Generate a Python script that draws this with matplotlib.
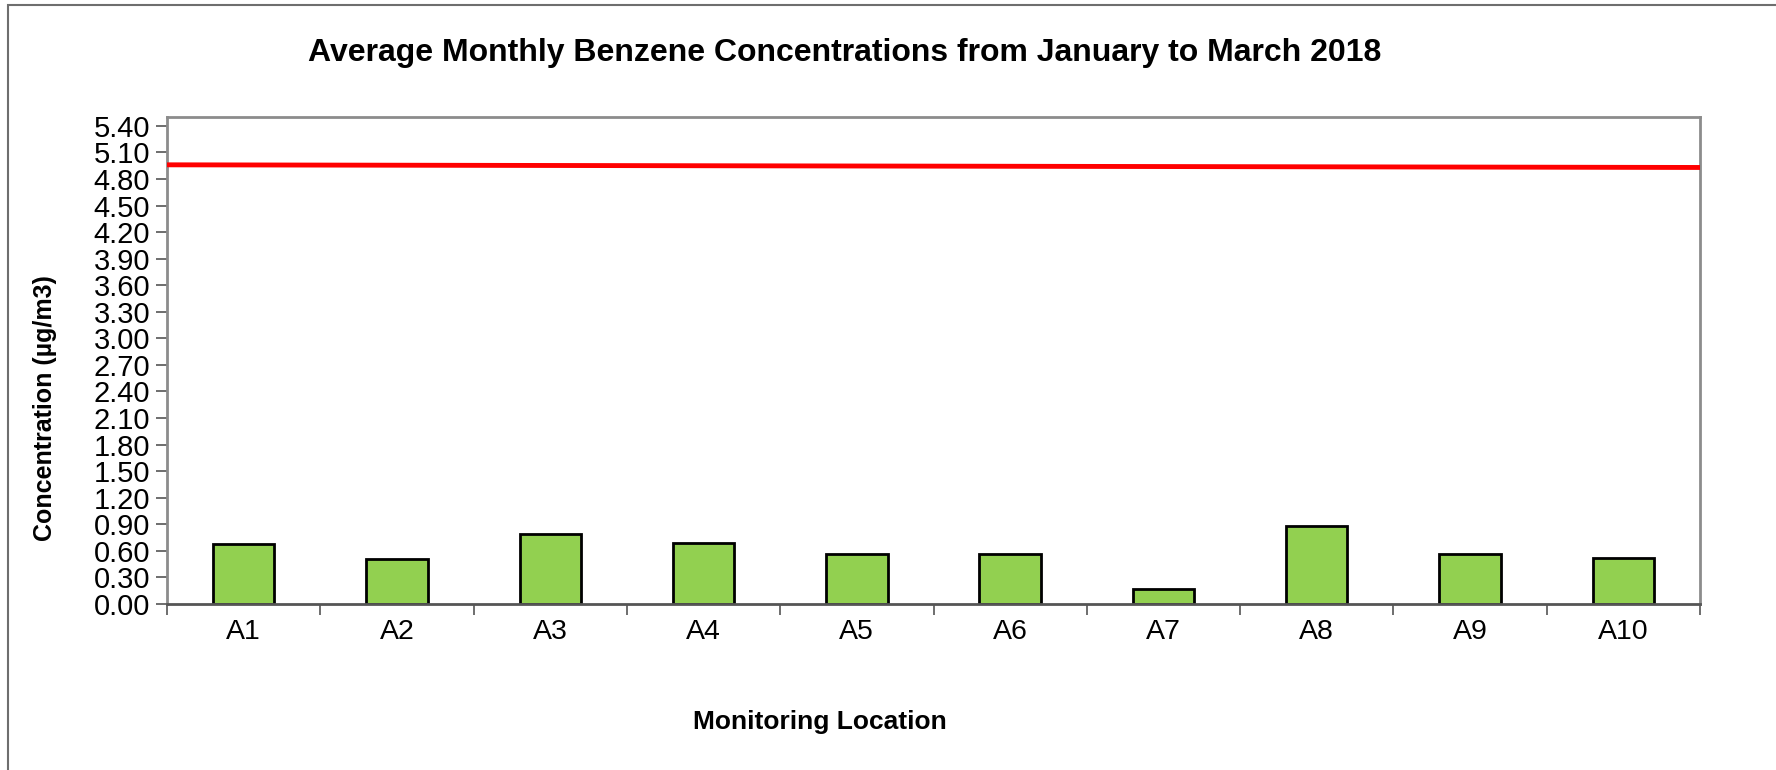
import matplotlib.pyplot as plt
from matplotlib.patches import Rectangle

plt.rcParams['font.family'] = ['Liberation Sans', 'DejaVu Sans']

locations = ['A1', 'A2', 'A3', 'A4', 'A5', 'A6', 'A7', 'A8', 'A9', 'A10']
benzene = [0.68, 0.51, 0.79, 0.69, 0.57, 0.56, 0.17, 0.88, 0.57, 0.52]
# guideline line, left end and right end
limit_x = [-0.5, 9.5]
limit_y = [4.96, 4.93]
yticks = [round(i * 0.3, 2) for i in range(19)]

fig = plt.figure(figsize=(17.76, 7.7), dpi=100)
# outer chart frame
fig.patches.append(Rectangle((8 / 1776, -0.1), 1.2, 1.1 - 5 / 770, transform=fig.transFigure,
                             fill=False, edgecolor='#6e6e6e', linewidth=1.5))

ax = fig.add_axes([167 / 1776, 166 / 770, 1533 / 1776, 487 / 770])
x = list(range(len(locations)))
ax.bar(x, benzene, width=0.4, color='#92D050', edgecolor='black', linewidth=2, zorder=2)
ax.plot(limit_x, limit_y, color='#ff0000', linewidth=3.5, zorder=3)

ax.set_xlim(-0.5, 9.5)
ax.set_ylim(0, 5.5)
ax.set_yticks(yticks)
ax.set_yticklabels([f'{v:.2f}' for v in yticks])
ax.set_xticks(x)
ax.set_xticklabels(locations)
ax.set_xticks([i - 0.5 for i in range(len(locations) + 1)], minor=True)
ax.tick_params(axis='x', which='major', length=0, labelsize=20.5, pad=11)
ax.tick_params(axis='x', which='minor', length=8, width=1.2, color='#555555')
ax.tick_params(axis='y', length=8, width=1.2, color='#555555', labelsize=21, pad=4)

for side in ['top', 'right', 'left']:
    ax.spines[side].set_color('#8c8c8c')
    ax.spines[side].set_linewidth(2)
ax.spines['bottom'].set_color('#555555')
ax.spines['bottom'].set_linewidth(2)

fig.text(845 / 1776, 1 - 53 / 770, 'Average Monthly Benzene Concentrations from January to March 2018',
         ha='center', va='center', fontsize=23, fontweight='bold')
fig.text(820 / 1776, 1 - 722 / 770, 'Monitoring Location',
         ha='center', va='center', fontsize=19, fontweight='bold')
fig.text(45 / 1776, 1 - 408 / 770, 'Concentration (µg/m3)', rotation=90,
         ha='center', va='center', fontsize=18, fontweight='bold')

fig.savefig('out.png', dpi=100)
